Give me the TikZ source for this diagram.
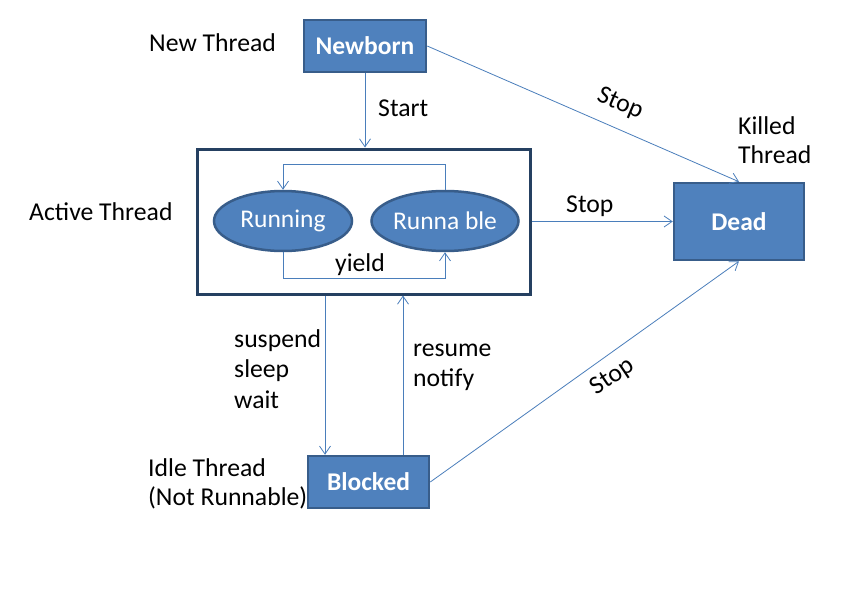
\documentclass[tikz,border=0pt]{standalone}
\usepackage{fontspec}
\setmainfont{Carlito}
\usetikzlibrary{arrows.meta,shapes.geometric}
\definecolor{boxfill}{HTML}{4F81BD}
\definecolor{boxline}{HTML}{385D8A}
\definecolor{framecol}{HTML}{254061}
\definecolor{arrcol}{HTML}{4A7EBB}
\begin{document}
\begin{tikzpicture}[x=1pt,y=-1pt,
  txt/.style={font=\fontsize{25.7}{30}\selectfont, inner sep=0pt, align=left},
  statebox/.style={draw=boxline, line width=2.5pt, fill=boxfill, text=white,
     font=\fontsize{25.5}{30}\selectfont\bfseries, inner sep=0pt},
  stateell/.style={ellipse, draw=boxline, line width=2.5pt, fill=boxfill, text=white,
     font=\fontsize{25.5}{30}\selectfont, inner sep=0pt, minimum width=138pt, minimum height=60pt},
  conn/.style={draw=arrcol, line width=0.8pt, -{Straight Barb[length=8pt,width=11pt,line width=0.8pt]}},
]
\useasboundingbox (0,0) rectangle (845,615);
\fill[white] (0,0) rectangle (845,615);

% main states
\node[statebox, minimum width=122pt, minimum height=52pt] (newborn) at (365,46) {Newborn};
\node[statebox, minimum width=130pt, minimum height=77pt] (dead) at (739,221.5) {Dead};
\node[statebox, minimum width=121pt, minimum height=52pt] (blocked) at (368.5,482) {Blocked};
\node[draw=framecol, line width=3pt, fill=white, minimum width=333pt, minimum height=145pt, inner sep=0pt] (active) at (363.5,221.5) {};
\node[stateell] (running) at (283,221) {Running};
\node[stateell] (runnable) at (445,221) {Runna ble};

% connectors
\draw[conn] (newborn.south) -- (newborn.south |- active.north);
\draw[conn] (newborn.east) -- (dead.north);
\draw[conn] (active.east) -- (dead.west);
\draw[conn] (blocked.east) -- (dead.south);
\draw[conn] (325,0 |- active.south) -- (325,0 |- blocked.north);
\draw[conn] (403,0 |- blocked.north) -- (403,0 |- active.south);
\draw[conn] (runnable.north) -- ++(0,-25) -| (running.north);
\draw[conn] (running.south) -- ++(0,26) -| (runnable.south);

% labels
\node[txt, anchor=base west] (lnew) at (149,52) {New Thread};
\node[txt, anchor=base west] (lstart) at (378,117) {Start};
\node[txt, anchor=base west] (lkilled) at (738,135) {Killed};
\node[txt, anchor=base west] (lkilled2) at (738,163) {Thread};
\node[txt, anchor=base west] (lactive) at (29,220) {Active Thread};
\node[txt, anchor=base west] (lstop2) at (566,212) {Stop};
\node[txt, anchor=base] (lyield) at (360,271) {yield};
\node[txt, anchor=base west] (ls1) at (234,347) {suspend};
\node[txt, anchor=base west] (ls2) at (234,377) {sleep};
\node[txt, anchor=base west] (ls3) at (234,408) {wait};
\node[txt, anchor=base west] (lr1) at (413,356) {resume};
\node[txt, anchor=base west] (lr2) at (413,386) {notify};
\node[txt, anchor=base west] (li1) at (148,476) {Idle Thread};
\node[txt, anchor=base west] (li2) at (148,505) {(Not Runnable)};
\node[txt, rotate=-23] (lstop1) at (620,104) {Stop};
\node[txt, rotate=34] (lstop3) at (613,377) {Stop};
\end{tikzpicture}
\end{document}
